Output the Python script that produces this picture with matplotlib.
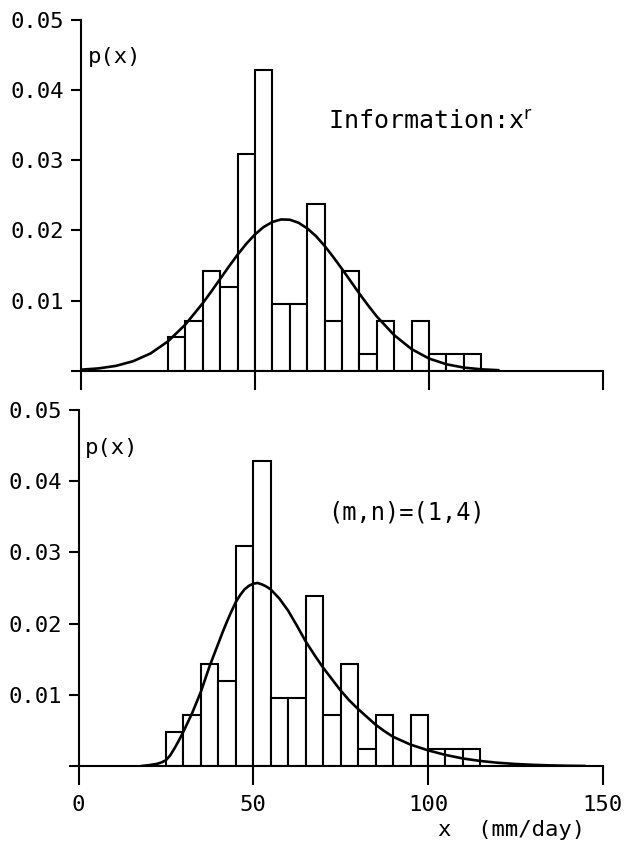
import matplotlib
matplotlib.use('Agg')
import matplotlib.pyplot as plt

# histogram (density per 5 mm/day bin), same data in both panels
bin_left = [25, 30, 35, 40, 45, 50, 55, 60, 65, 70, 75, 80, 85, 90, 95, 100, 105, 110]
density = [0.00476, 0.00714, 0.01429, 0.01190, 0.03095, 0.04286, 0.00952, 0.00952, 0.02381,
           0.00714, 0.01429, 0.00238, 0.00714, 0.0, 0.00714, 0.00238, 0.00238, 0.00238]
bin_w = 5

# fitted curve, top panel (information criterion)
x_top = [0, 5, 10, 15, 20, 25, 30, 35, 37.5, 40, 42.5, 45, 47.5, 50, 52.5, 55, 57.5, 60,
         62.5, 65, 67.5, 70, 72.5, 75, 77.5, 80, 82.5, 85, 90, 95, 100, 105, 110, 115, 120]
p_top = [0.00015, 0.00033, 0.00069, 0.00136, 0.00247, 0.00419, 0.00659, 0.00964, 0.01134,
         0.0131, 0.01486, 0.01655, 0.0181, 0.01944, 0.0205, 0.02121, 0.02157, 0.02153,
         0.0211, 0.0203, 0.0192, 0.0178, 0.0162, 0.01451, 0.01275, 0.01099, 0.00931,
         0.00773, 0.00507, 0.00308, 0.00174, 0.00092, 0.00045, 0.0002, 0.00008]

# fitted curve, bottom panel (m,n)=(1,4)
x_bot = [18, 20, 22.5, 23.75, 25, 26.25, 27.5, 28.75, 30, 31.25, 32.5, 33.75, 35, 36.25,
         37.5, 38.75, 40, 41.25, 42.5, 43.75, 45, 46.25, 47.5, 48.75, 50, 51.25, 52.5,
         53.75, 55, 57.5, 60, 62.5, 65, 67.5, 70, 72.5, 75, 77.5, 80, 82.5, 85, 87.5, 90,
         95, 100, 105, 110, 115, 120, 125, 130, 135, 140, 145]
p_bot = [0.0, 0.0001, 0.0003, 0.0005, 0.0008, 0.0015, 0.0025, 0.0036, 0.0048, 0.0061,
         0.0074, 0.0089, 0.0104, 0.0122, 0.0140, 0.0156, 0.0172, 0.0188, 0.0203, 0.0217,
         0.0230, 0.0240, 0.0248, 0.0253, 0.0256, 0.0257, 0.0255, 0.0252, 0.0248, 0.0235,
         0.0218, 0.0197, 0.0175, 0.0156, 0.0138, 0.0122, 0.0106, 0.0092, 0.0080, 0.0069,
         0.0058, 0.0049, 0.0041, 0.0030, 0.0022, 0.00155, 0.00105, 0.0007, 0.00045,
         0.00028, 0.00016, 0.00008, 0.00003, 0.0]

y_ticks = [0, 0.01, 0.02, 0.03, 0.04, 0.05]
y_labels = ['', '0.01', '0.02', '0.03', '0.04', '0.05']
x_ticks = [0, 50, 100, 150]

plt.rcParams['font.family'] = ['DejaVu Sans Mono']

fig = plt.figure(figsize=(6.26, 8.42), dpi=100)
ax1 = fig.add_axes([0.1294, 0.5597, 0.8339, 0.4165])
ax2 = fig.add_axes([0.1254, 0.0903, 0.8374, 0.4228])


def draw(ax, xc, pc, show_x):
    ax.bar(bin_left, density, width=bin_w, align='edge', facecolor='white',
           edgecolor='black', linewidth=1.5, zorder=2)
    ax.plot(xc, pc, color='black', linewidth=1.9, zorder=3,
            solid_joinstyle='round', solid_capstyle='round')
    ax.set_xlim(0, 150)
    ax.set_ylim(0, 0.05)
    for s in ['top', 'right']:
        ax.spines[s].set_visible(False)
    for s in ['left', 'bottom']:
        ax.spines[s].set_linewidth(1.5)
        ax.spines[s].set_zorder(4)
    ax.set_yticks(y_ticks)
    ax.set_yticklabels(y_labels)
    ax.set_xticks(x_ticks)
    if not show_x:
        ax.set_xticklabels([])
    ax.tick_params(axis='y', direction='out', length=7, width=1.5, labelsize=16, pad=5)
    ax.tick_params(axis='x', direction='out', length=14, width=1.5, labelsize=16, pad=7)
    ax.text(0.013, 0.894, 'p(x)', transform=ax.transAxes, fontsize=16,
            ha='left', va='center')


draw(ax1, x_top, p_top, False)
draw(ax2, x_bot, p_bot, True)

ax1.text(0.474, 0.709, 'Information:x$^{\\mathrm{r}}$', transform=ax1.transAxes,
         fontsize=18, ha='left', va='center')
ax2.text(0.476, 0.713, '(m,n)=(1,4)', transform=ax2.transAxes,
         fontsize=17, ha='left', va='center')
fig.text(585 / 626, 1 - 830 / 842, 'x  (mm/day)', fontsize=16, ha='right', va='center')

fig.savefig('out.png', dpi=100)
